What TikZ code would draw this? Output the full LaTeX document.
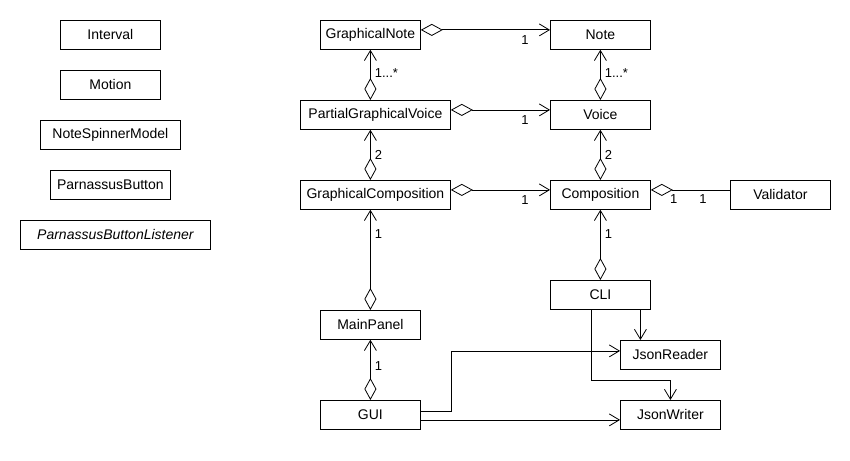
\documentclass[tikz,border=0pt]{standalone}
\usepackage{fontspec}
\setmainfont{Liberation Sans}
\usetikzlibrary{arrows.meta,positioning,calc}
\tikzset{
  every picture/.append style={line width=0.8pt},
}
\tikzset{
  cls/.style={draw, rectangle, inner sep=0pt, minimum height=29pt, minimum width=100pt,
    anchor=north west, font=\fontsize{14}{16}\selectfont},
  agg/.style={{Diamond[open,length=22pt,width=12pt]}-{Straight Barb[length=10pt,width=12pt]}},
  aggonly/.style={{Diamond[open,length=22pt,width=12pt]}-},
  dep/.style={-{Straight Barb[length=10pt,width=12pt]}},
  mult/.style={font=\fontsize{13}{15}\selectfont, inner sep=1pt}
}

\begin{document}
\begin{tikzpicture}[x=1pt, y=-1pt]
\useasboundingbox (0,0) rectangle (850,460);

% --- Stand-alone classes (left column) ---
\node[cls] (interval) at (60,20) {Interval};
\node[cls] (motion) at (60,70) {Motion};
\node[cls, minimum width=140pt] (spinner) at (40,120) {NoteSpinnerModel};
\node[cls, minimum width=120pt] (pbutton) at (50,170) {ParnassusButton};
\node[cls, minimum width=190pt] (plistener) at (20,220) {\itshape ParnassusButtonListener};

% --- Graphical side ---
\node[cls] (gnote) at (320,20) {GraphicalNote};
\node[cls, minimum width=150pt] (pgvoice) at (300,100) {PartialGraphicalVoice};
\node[cls, minimum width=150pt] (gcomp) at (300,180) {GraphicalComposition};
\node[cls] (mainpanel) at (320,310) {MainPanel};
\node[cls] (gui) at (320,400) {GUI};

% --- Model side ---
\node[cls] (note) at (550,20) {Note};
\node[cls] (voice) at (550,100) {Voice};
\node[cls] (comp) at (550,180) {Composition};
\node[cls] (validator) at (730,180) {Validator};
\node[cls] (cli) at (550,280) {CLI};
\node[cls] (jreader) at (620,340) {JsonReader};
\node[cls] (jwriter) at (620,400) {JsonWriter};

% --- Horizontal aggregations ---
\draw[agg] ([yshift=5pt]gnote.east) -- ([yshift=5pt]gnote.east -| note.west)
  node[mult, at end, below left, xshift=-20pt, yshift=-4pt] {1};
\draw[agg] ([yshift=5pt]pgvoice.east) -- ([yshift=5pt]pgvoice.east -| voice.west)
  node[mult, at end, below left, xshift=-20pt, yshift=-4pt] {1};
\draw[agg] ([yshift=5pt]gcomp.east) -- ([yshift=5pt]gcomp.east -| comp.west)
  node[mult, at end, below left, xshift=-20pt, yshift=-4pt] {1};
\draw[aggonly] ([yshift=5pt]comp.east) -- ([yshift=5pt]comp.east -| validator.west)
  node[mult, at start, below right, xshift=18pt, yshift=-3pt] {1}
  node[mult, at end, below left, xshift=-22pt, yshift=-3pt] {1};

% --- Vertical aggregations ---
\draw[agg] ([xshift=-5pt]pgvoice.north) -- ([xshift=-5pt]pgvoice.north |- gnote.south)
  node[mult, at start, right, xshift=3pt, yshift=27pt] {1...*};
\draw[agg] (voice.north) -- (note.south)
  node[mult, at start, right, xshift=3pt, yshift=27pt] {1...*};
\draw[agg] ([xshift=-5pt]gcomp.north) -- ([xshift=-5pt]pgvoice.south)
  node[mult, at start, right, xshift=3pt, yshift=25pt] {2};
\draw[agg] (comp.north) -- (voice.south)
  node[mult, at start, right, xshift=3pt, yshift=25pt] {2};
\draw[agg] (mainpanel.north) -- (mainpanel.north |- gcomp.south)
  node[mult, at end, right, xshift=3pt, yshift=-24pt] {1};
\draw[agg] (cli.north) -- (comp.south)
  node[mult, at end, right, xshift=3pt, yshift=-24pt] {1};
\draw[agg] (gui.north) -- (mainpanel.south)
  node[mult, at end, right, xshift=3pt, yshift=-26pt] {1};

% --- Dependencies on the JSON classes ---
\draw[dep] ([xshift=40pt]cli.south) -- ([xshift=40pt]cli.south |- jreader.north);
\draw[dep] ([xshift=-9pt]cli.south) |- ([yshift=20pt]jwriter.north) -- (jwriter.north);
\draw[dep] ([yshift=4pt]gui.east) -- ++(31,0) |- ([yshift=4pt]jreader.west);
\draw[dep] ([yshift=-5pt]gui.east) -- ([yshift=-5pt]gui.east -| jwriter.west);

\end{tikzpicture}
\end{document}
